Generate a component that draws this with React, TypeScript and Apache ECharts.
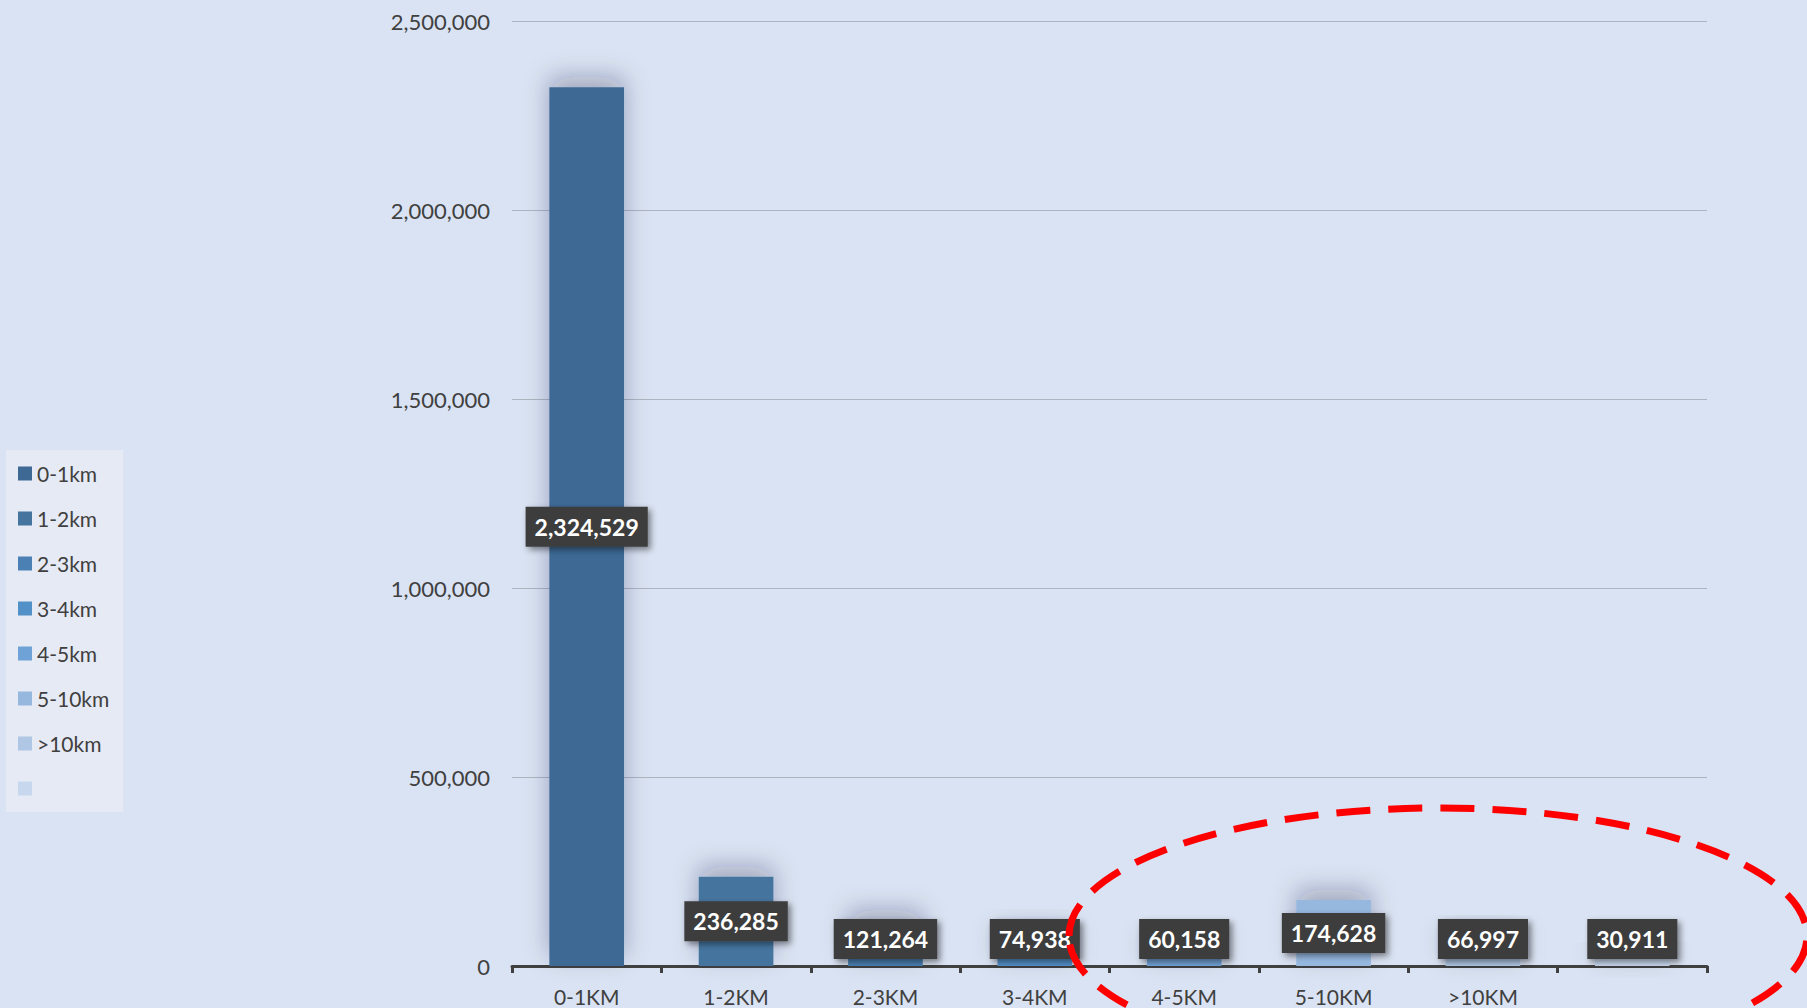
import React, { useEffect, useRef } from "react";
import * as echarts from "echarts";

const categories = ["0-1KM", "1-2KM", "2-3KM", "3-4KM", "4-5KM", "5-10KM", ">10KM", ""];
const legendNames = ["0-1km", "1-2km", "2-3km", "3-4km", "4-5km", "5-10km", ">10km", " "];
const values = [2324529, 236285, 121264, 74938, 60158, 174628, 66997, 30911];
const yTicks = { min: 0, max: 2500000, interval: 500000 };

const colors = ["#3D6994", "#45749F", "#4A80B3", "#5290C8", "#6FA3D7", "#96B8DF", "#AFC7E4", "#C7D8EE"];
const labelCentered = [true, true, false, false, false, true, false, false];

const fmt = (v: number) => Number(v).toLocaleString("en-US");

export default function App() {
  const ref = useRef<HTMLDivElement>(null);
  useEffect(() => {
    if (!ref.current) return;
    const chart = echarts.init(ref.current, null, { renderer: "svg" });
    const series = values.map((v, i) => ({
      name: legendNames[i],
      type: "bar",
      stack: "total",
      barWidth: "50%",
      data: categories.map((_, j) => (j === i ? v : "-")),
      itemStyle: {
        color: colors[i],
        shadowBlur: 24,
        shadowOffsetY: -10,
        shadowColor: "rgba(20,30,60,0.3)",
      },
      label: {
        show: true,
        position: labelCentered[i] ? "inside" : "insideBottom",
        distance: 7,
        formatter: (p: any) => fmt(p.value),
        color: "#FFFFFF",
        fontFamily: "Lato",
        fontWeight: "bold",
        fontSize: 23,
        lineHeight: 26,
        backgroundColor: "#3C3C3C",
        padding: [7, 9],
        shadowColor: "rgba(0,0,0,0.45)",
        shadowBlur: 6,
        shadowOffsetX: 3,
        shadowOffsetY: 3,
      },
      emphasis: { disabled: true },
    }));
    chart.setOption({
      animation: false,
      backgroundColor: "#DAE3F3",
      textStyle: { fontFamily: "Lato" },
      grid: { left: 512, right: 100, top: 21, bottom: 42, containLabel: false },
      legend: {
        orient: "vertical",
        left: 6,
        top: 450,
        data: legendNames,
        icon: "rect",
        itemWidth: 14,
        itemHeight: 14,
        itemGap: 24,
        padding: [13, 14, 13, 12],
        backgroundColor: "#E6EAF4",
        textStyle: { color: "#404040", fontSize: 21, lineHeight: 21, fontFamily: "Lato" },
        selectedMode: false,
      },
      xAxis: {
        type: "category",
        data: categories,
        axisLine: { show: true, lineStyle: { color: "#404040", width: 3 } },
        axisTick: { show: true, length: 7, lineStyle: { color: "#404040", width: 3 } },
        axisLabel: { color: "#404040", fontSize: 21, fontFamily: "Lato", margin: 20 },
      },
      yAxis: {
        type: "value",
        min: yTicks.min,
        max: yTicks.max,
        interval: yTicks.interval,
        axisLine: { show: false },
        axisTick: { show: false },
        axisLabel: { color: "#404040", fontSize: 22, fontFamily: "Lato", margin: 22, formatter: (v: number) => fmt(v) },
        splitLine: { lineStyle: { color: "#AEB5C0", width: 1 } },
      },
      graphic: [
        {
          type: "ellipse",
          shape: { cx: 1438, cy: 936, rx: 369, ry: 128 },
          style: { fill: "none", stroke: "#FF0000", lineWidth: 7, lineDash: [34, 18] },
          z: 100,
        },
      ],
      series,
    });
    return () => chart.dispose();
  }, []);
  return <div ref={ref} style={{ position: "fixed", left: 0, top: 0, width: 1807, height: 1008 }} />;
}
